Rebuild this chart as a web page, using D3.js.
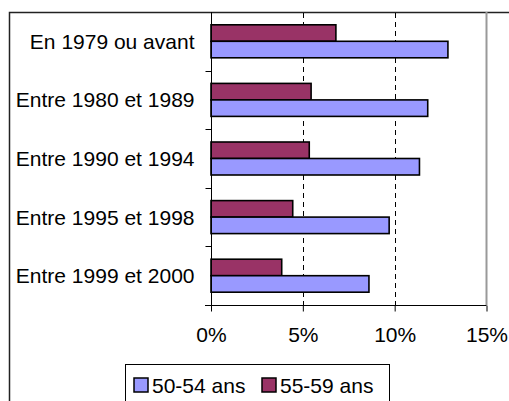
<!DOCTYPE html>
<html>
<head>
<meta charset="utf-8">
<script src="https://cdn.jsdelivr.net/npm/d3@7"></script>
<style>
  html, body { margin: 0; padding: 0; background: #fff; }
  svg { display: block; font-family: "Liberation Sans", Arial, sans-serif; }
</style>
</head>
<body>
<svg id="chart" width="509" height="401"></svg>
<script>
// donnees
var categories = ["En 1979 ou avant", "Entre 1980 et 1989", "Entre 1990 et 1994", "Entre 1995 et 1998", "Entre 1999 et 2000"];
var series = ["55-59 ans", "50-54 ans"];
var valeurs5054 = [12.9, 11.8, 11.35, 9.7, 8.6];
var valeurs5559 = [6.8, 5.45, 5.35, 4.45, 3.85];
var ticksX = [0, 5, 10, 15];
var legende = ["50-54 ans", "55-59 ans"];
var couleurs = { "50-54 ans": "#9999FF", "55-59 ans": "#993366" };

var dataset = categories.map(function(c, i) {
  return { nom: c, "50-54 ans": valeurs5054[i], "55-59 ans": valeurs5559[i] };
});

var svg = d3.select("#chart");

// cadre du graphique
svg.append("rect")
  .attr("x", 9.5).attr("y", 12.5)
  .attr("width", 600).attr("height", 500)
  .attr("fill", "none")
  .attr("stroke", "#222")
  .attr("stroke-width", 1.5);

var xScale = d3.scaleLinear().domain([0, 15]).range([211, 486.5]);
var yScale = d3.scaleBand().domain(categories).range([12, 305])
  .paddingInner(0.437).paddingOuter(0.2185);
var sScale = d3.scaleBand().domain(series).range([0, yScale.bandwidth()]);

// bord droit de la zone de trace
svg.append("line")
  .attr("x1", xScale(15)).attr("x2", xScale(15))
  .attr("y1", 12).attr("y2", 305)
  .attr("stroke", "#999").attr("stroke-width", 2);

// lignes de quadrillage
svg.selectAll(".grille")
  .data([5, 10])
  .enter()
  .append("line")
  .attr("class", "grille")
  .attr("x1", function(d) { return Math.round(xScale(d)) + 0.5; })
  .attr("x2", function(d) { return Math.round(xScale(d)) + 0.5; })
  .attr("y1", 13).attr("y2", 305)
  .attr("stroke", "#000")
  .attr("stroke-dasharray", "5,4");

// barres
var groupes = svg.selectAll(".groupe")
  .data(dataset)
  .enter()
  .append("g")
  .attr("class", "groupe")
  .attr("transform", function(d) { return "translate(0," + yScale(d.nom) + ")"; });

groupes.selectAll("rect")
  .data(function(d) { return series.map(function(s) { return { serie: s, val: d[s] }; }); })
  .enter()
  .append("rect")
  .attr("x", xScale(0))
  .attr("y", function(d) { return sScale(d.serie); })
  .attr("width", function(d) { return xScale(d.val) - xScale(0); })
  .attr("height", sScale.bandwidth())
  .attr("fill", function(d) { return couleurs[d.serie]; })
  .attr("stroke", "#000")
  .attr("stroke-width", 1.6);

// axe vertical
var axeY = svg.append("g").attr("transform", "translate(211.5,0)");
axeY.append("line").attr("x1", 0).attr("x2", 0).attr("y1", 12).attr("y2", 305)
  .attr("stroke", "#000");
var limites = d3.range(1, categories.length + 1).map(function(i) {
  return yScale.range()[0] + i * yScale.step() - yScale.step() * 0 ;
});
axeY.selectAll(".tickY")
  .data(categories.slice(1).map(function(c) { return yScale(c) - yScale.step() * yScale.paddingInner() / 2; }).concat([305]))
  .enter()
  .append("line")
  .attr("x1", -6).attr("x2", 0)
  .attr("y1", function(d) { return Math.round(d) + 0.5; })
  .attr("y2", function(d) { return Math.round(d) + 0.5; })
  .attr("stroke", "#000");

axeY.selectAll(".etiquette")
  .data(categories)
  .enter()
  .append("text")
  .attr("x", -17)
  .attr("y", function(d) { return yScale(d) + yScale.bandwidth() / 2; })
  .attr("dy", "0.36em")
  .attr("text-anchor", "end")
  .attr("font-size", 21)
  .attr("fill", "#000")
  .text(function(d) { return d; });

// axe horizontal
var axeX = d3.axisBottom(xScale)
  .tickValues(ticksX)
  .tickFormat(function(d) { return d + "%"; })
  .tickSize(6)
  .tickPadding(16);
var gX = svg.append("g").attr("transform", "translate(0,305.5)").call(axeX);
gX.select(".domain").attr("stroke", "#000").attr("d", "M205," + 0 + "H" + xScale(15));
gX.selectAll("text").attr("font-size", 21).attr("font-family", "Liberation Sans, Arial, sans-serif").attr("fill", "#000");
gX.selectAll(".tick line").attr("stroke", "#000");

// legende
var gLeg = svg.append("g");
gLeg.append("rect")
  .attr("x", 125.5).attr("y", 364.5)
  .attr("width", 264).attr("height", 60)
  .attr("fill", "#fff").attr("stroke", "#000");
var posLeg = [134, 262];
var items = gLeg.selectAll(".item")
  .data(legende)
  .enter()
  .append("g")
  .attr("transform", function(d, i) { return "translate(" + posLeg[i] + ",378)"; });
items.append("rect")
  .attr("width", 14).attr("height", 14)
  .attr("fill", function(d) { return couleurs[d]; })
  .attr("stroke", "#000").attr("stroke-width", 1.5);
items.append("text")
  .attr("x", 18).attr("y", 7).attr("dy", "0.36em")
  .attr("font-size", 21)
  .attr("fill", "#000")
  .text(function(d) { return d; });
</script>
</body>
</html>
